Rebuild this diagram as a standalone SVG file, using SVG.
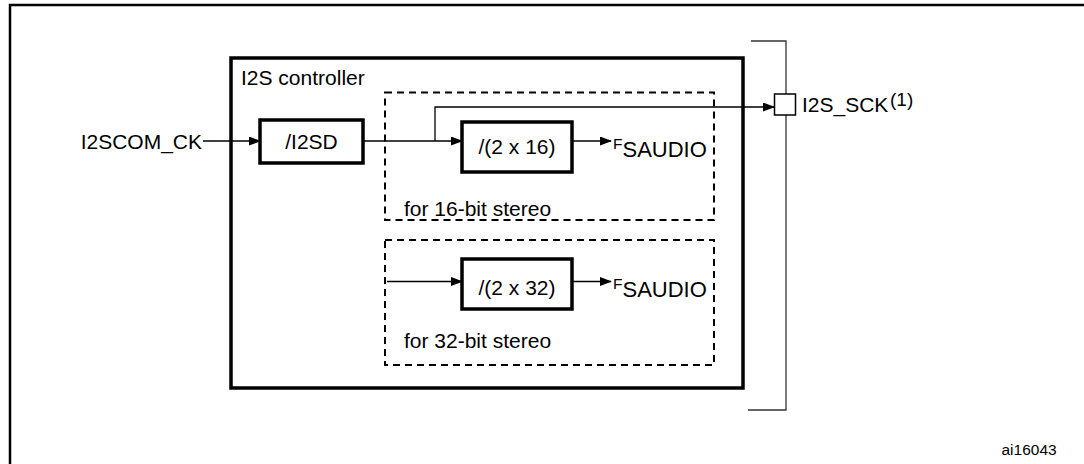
<svg xmlns="http://www.w3.org/2000/svg" width="1084" height="464" viewBox="0 0 1084 464">
<style>
text{font-family:"Liberation Sans",Arial,sans-serif;fill:#000}
.t{font-size:21px}
.c{text-anchor:middle}
.blk{fill:#fff;stroke:#000;stroke-width:3.5}
.dash{fill:none;stroke:#000;stroke-width:2;stroke-dasharray:7 5}
.ln{fill:none;stroke:#000;stroke-width:1.3}
.br{fill:none;stroke:#333;stroke-width:1.3}
.fs{font-size:15.5px}
.sa{font-size:22px}
</style>
<defs>
<marker id="ah" markerWidth="12" markerHeight="10" refX="11" refY="4.5" orient="auto" markerUnits="userSpaceOnUse">
<path d="M0,0 L12,4.5 L0,9 Z" fill="#000"/>
</marker>
</defs>
<rect width="1084" height="464" fill="#fff"/>
<g id="frame">
<path d="M10,470 L10,5 L1090,5" fill="none" stroke="#000" stroke-width="2.5"/>
</g>
<g id="bracket">
<path class="br" d="M751,41 L786,41 L786,410 L748,410"/>
</g>
<g id="controller">
<rect x="231" y="58" width="512" height="330" fill="none" stroke="#000" stroke-width="3.5"/>
<text class="t" x="241" y="85">I2S controller</text>
</g>
<g id="group16">
<rect class="dash" x="385" y="92.5" width="329" height="127.5"/>
<text class="t" x="404" y="216">for 16-bit stereo</text>
</g>
<g id="group32">
<rect class="dash" x="385" y="240" width="329" height="125"/>
<text class="t" x="404" y="348">for 32-bit stereo</text>
</g>
<g id="connectors">
<line class="ln" x1="203" y1="141" x2="260" y2="141" marker-end="url(#ah)"/>
<line class="ln" x1="363" y1="141" x2="462" y2="141" marker-end="url(#ah)"/>
<path class="ln" d="M435,141 L435,107 L774,107" marker-end="url(#ah)"/>
<line class="ln" x1="572" y1="141" x2="611" y2="141" marker-end="url(#ah)"/>
<line class="ln" x1="387" y1="281.5" x2="462" y2="281.5" marker-end="url(#ah)"/>
<line class="ln" x1="572" y1="281.5" x2="611" y2="281.5" marker-end="url(#ah)"/>
</g>
<g id="i2scomck">
<text class="t" x="202" y="149" text-anchor="end">I2SCOM_CK</text>
</g>
<g id="i2sd">
<rect class="blk" x="260" y="120" width="103" height="43"/>
<text class="t c" x="311.5" y="149">/I2SD</text>
</g>
<g id="div16">
<rect class="blk" x="462" y="122" width="110" height="50"/>
<text class="t c" x="517" y="154">/(2 x 16)</text>
</g>
<g id="fs16">
<text class="fs" x="613" y="148.5">F</text>
<text class="sa" x="622.5" y="156.7">SAUDIO</text>
</g>
<g id="div32">
<rect class="blk" x="462" y="259" width="110" height="50"/>
<text class="t c" x="517" y="294.5">/(2 x 32)</text>
</g>
<g id="fs32">
<text class="fs" x="613" y="289">F</text>
<text class="sa" x="622.5" y="297.3">SAUDIO</text>
</g>
<g id="pad">
<rect x="774.5" y="94" width="21" height="21" fill="#fff" stroke="#000" stroke-width="1.5"/>
<text class="t" x="802" y="112">I2S_SCK</text>
<text x="890" y="106" font-size="19">(1)</text>
</g>
<g id="ref">
<text x="1001.5" y="455" font-size="15.5">ai16043</text>
</g>
</svg>
